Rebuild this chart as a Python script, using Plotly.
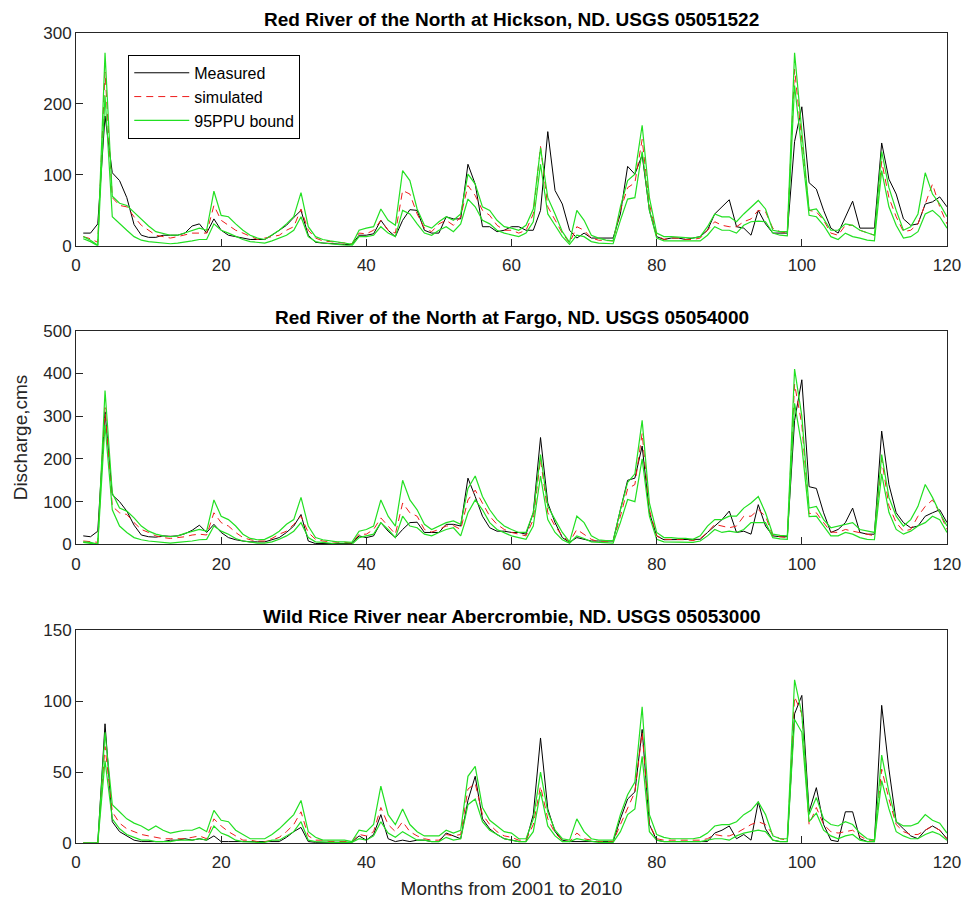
import plotly.graph_objects as go

months = list(range(1, 121))

# ---- Panel 1: Red River of the North at Hickson ----
hick_meas = [18,18,31,183,103,92,68,30,15,12, 12,15,15,15,18,28,31,18,38,22,
             15,13,11,9,9,9,15,22,29,40, 50,15,5,4,3,3,2,2,15,15,
             17,36,22,13,36,51,50,22,18,18, 41,38,38,115,87,27,27,20,22,27,
             27,22,22,50,161,78,59,22,11,18, 11,11,11,11,45,112,101,128,50,13,
             9,11,11,9,11,13,22,45,55,65, 27,25,15,50,31,18,18,18,147,196,
             89,80,50,25,18,41,63,25,25,25, 145,94,73,38,29,31,59,62,69,55]
hick_sim = [13,10,5,245,68,57,55,41,29,22, 15,13,11,13,15,18,18,18,57,36,
            29,22,18,13,9,11,13,15,22,27, 52,22,11,7,6,5,4,3,18,17,
            22,36,22,18,78,73,45,25,20,31, 36,29,41,85,71,50,43,29,22,22,
            18,22,45,140,55,36,18,4,27,22, 11,8,7,7,50,82,89,150,59,15,
            9,11,11,9,9,11,22,34,29,27, 27,34,38,50,48,25,20,18,249,150,
            50,48,36,18,15,29,29,22,18,15, 119,68,41,20,22,31,59,87,55,31]
hick_up = [13,8,1,272,70,60,57,47,37,28, 20,18,15,15,18,22,25,22,77,43,
           41,31,22,15,11,9,15,22,31,41, 75,27,13,9,7,6,4,2,22,25,
           27,52,36,29,106,92,52,29,25,34, 41,36,45,101,87,55,50,36,27,25,
           22,29,52,138,68,45,20,5,50,36, 15,11,8,7,55,92,101,170,68,18,
           13,13,12,11,11,13,27,45,41,41, 34,45,55,64,52,22,20,20,272,160,
           50,52,38,22,22,31,29,22,18,15, 133,82,50,22,27,45,103,73,59,41]
hick_lo = [10,6,0,212,41,31,22,13,8,6, 5,4,3,4,5,7,9,9,31,22,
           18,13,9,6,5,4,7,11,15,22, 41,13,6,4,3,2,1,0,13,13,
           15,27,18,13,50,45,31,18,15,22, 27,20,31,66,55,36,31,22,18,15,
           13,18,34,115,45,29,13,2,15,13, 6,4,3,3,36,66,68,133,50,11,
           7,7,7,6,6,7,15,27,22,22, 18,29,34,35,34,18,15,14,226,135,
           43,41,29,13,9,18,13,11,8,7, 106,55,29,11,13,20,45,50,41,25]

# ---- Panel 2: Red River of the North at Fargo ----
fargo_meas = [20,18,31,310,116,100,78,45,22,18, 17,20,19,20,25,33,45,28,47,28,
              16,11,8,6,6,6,11,16,28,43, 70,8,2,2,2,2,2,2,20,16,
              20,51,31,16,35,51,52,28,28,28, 47,47,43,155,112,66,39,31,31,28,
              28,24,74,250,97,51,16,5,16,12, 8,8,8,8,81,150,155,230,74,20,
              11,11,11,11,11,12,28,43,58,78, 28,31,24,93,43,20,18,18,290,385,
              135,131,74,28,35,51,85,28,24,24, 265,140,74,51,39,43,66,74,81,51]
fargo_sim = [8,6,5,320,89,74,70,51,35,28, 20,16,14,16,18,22,24,22,74,51,
             43,28,16,11,8,8,14,24,31,47, 66,28,12,8,6,5,5,3,24,24,
             35,62,43,24,97,74,66,35,29,35, 43,44,35,104,127,97,66,47,35,28,
             24,20,58,200,74,43,20,6,35,24, 12,6,6,6,66,130,140,260,81,20,
             12,12,11,11,9,14,28,47,43,39, 43,66,66,81,66,20,18,16,375,280,
             72,74,51,29,28,35,31,28,24,20, 200,90,51,31,35,66,89,104,74,35]
fargo_up = [6,5,1,360,120,85,78,62,43,31, 24,20,18,20,26,31,35,31,104,66,
            58,43,24,14,11,12,20,31,47,58, 110,43,16,11,9,6,6,5,31,35,
            43,104,66,43,150,104,81,47,35,43, 51,55,47,131,160,112,81,58,43,35,
            28,28,74,210,89,58,28,6,66,51, 20,11,9,9,81,145,165,290,97,28,
            16,16,14,14,12,20,43,58,58,66, 66,85,97,112,74,24,21,20,410,300,
            85,89,58,39,43,47,51,35,31,28, 210,110,66,43,58,89,140,110,74,43]
fargo_lo = [5,2,0,280,81,43,28,16,11,8, 6,5,3,5,6,8,11,12,43,31,
            24,14,8,5,3,3,6,12,20,31, 51,16,6,5,3,1,1,0,16,20,
            24,51,35,16,66,43,39,24,20,28, 35,39,20,74,104,81,51,35,28,20,
            16,12,43,160,58,28,11,3,20,14, 6,5,3,3,51,105,100,200,66,12,
            6,6,5,5,5,8,20,35,28,31, 28,35,51,51,51,16,13,12,330,230,
            65,66,43,20,20,28,24,16,12,11, 165,75,35,24,31,43,51,66,58,28]

# ---- Panel 3: Wild Rice River near Abercrombie ----
wild_meas = [0,0,0,84,15,8,5,2,1,1, 1,1,2,2,3,2,3,2,5,1,
             1,1,0.5,0.5,0.5,0.5,0.5,1,4,8, 11,1,0.5,0.5,0.5,0.5,0.5,0.5,5,2,
             6,20,3,1,2,1,2,2,1,1, 7,5,3,30,47,17,10,6,3,2,
             1,1,20,74,24,8,2,1,1,1, 1,1,1,1,17,31,36,80,13,2,
             1,1,1,1,1,1,1,7,9,12, 3,6,2,29,10,2,1,1,91,104,
             22,39,13,2,1,22,22,3,1,1, 97,52,15,10,5,3,9,12,9,3]
wild_sim = [0,0,0,68,22,14,10,8,6,5, 4,3,3,3,3,4,5,3,17,12,
            8,5,2,2,1,1,2,4,8,13, 22,5,2,2,1,1,1,1,6,5,
            8,25,13,8,15,8,5,3,2,2, 6,5,6,38,42,20,13,8,5,4,
            2,2,13,40,17,7,2,1,7,3, 2,1,1,1,13,24,36,78,13,3,
            2,2,2,2,2,2,3,6,5,5, 7,10,13,15,13,6,3,2,103,91,
            13,25,13,8,7,8,9,5,2,2, 52,31,13,8,6,6,9,12,9,3]
wild_up = [0,0,0,78,27,22,17,14,12,9, 12,9,7,8,9,9,11,8,23,16,
           15,9,6,3,3,3,6,10,15,20, 30,8,4,2,2,2,2,1,9,8,
           13,40,20,13,24,13,8,5,5,5, 9,7,9,47,54,25,16,12,8,7,
           3,3,17,50,22,9,3,2,17,8, 3,2,2,2,20,34,43,96,20,6,
           4,3,3,3,3,4,7,12,13,13, 15,20,23,29,20,5,3,3,115,91,
           20,32,17,13,12,15,13,7,3,2, 62,36,15,12,12,14,20,16,14,7]
wild_lo = [0,0,0,58,17,10,6,4,2,2, 1,1,1,2,2,2,3,2,12,7,
           5,2,1,0.5,0.5,0.5,2,2,5,8, 15,2,1,0.5,0.5,0.5,0.5,0.5,3,2,
           5,15,7,4,8,5,2,2,1,1, 4,2,3,27,31,15,9,6,3,2,
           1,1,8,36,12,5,1,1,3,2, 1,0.5,0.5,0.5,8,20,24,61,8,2,
           1,1,1,1,1,1,2,3,3,2, 5,7,8,9,8,2,1,1,87,78,
           15,21,9,5,3,5,6,2,1,1, 44,24,8,5,3,3,6,8,6,2]

titles = ["Red River of the North at Hickson, ND. USGS 05051522",
          "Red River of the North at Fargo, ND. USGS 05054000",
          "Wild Rice River near Abercrombie, ND. USGS 05053000"]
y_ranges = [[0, 300], [0, 500], [0, 150]]
y_dticks = [100, 100, 50]
x_ticks = [0, 20, 40, 60, 80, 100, 120]

panels = [(hick_meas, hick_sim, hick_up, hick_lo),
          (fargo_meas, fargo_sim, fargo_up, fargo_lo),
          (wild_meas, wild_sim, wild_up, wild_lo)]

GREEN = "#22e022"
RED = "#ee1c1c"
AX = "#262626"
FONT = "Liberation Sans, Arial, Helvetica"

fig = go.Figure()
for i, (meas, sim, up, lo) in enumerate(panels):
    xa = "x" if i == 0 else f"x{i+1}"
    ya = "y" if i == 0 else f"y{i+1}"
    first = (i == 0)
    fig.add_trace(go.Scatter(x=months, y=meas, mode="lines", name="Measured",
                             line=dict(color="black", width=1),
                             showlegend=first, xaxis=xa, yaxis=ya))
    fig.add_trace(go.Scatter(x=months, y=sim, mode="lines", name="simulated",
                             line=dict(color=RED, width=1, dash="7px,5px"),
                             showlegend=first, xaxis=xa, yaxis=ya))
    fig.add_trace(go.Scatter(x=months, y=up, mode="lines", name="95PPU bound",
                             line=dict(color=GREEN, width=1.2),
                             showlegend=first, xaxis=xa, yaxis=ya))
    fig.add_trace(go.Scatter(x=months, y=lo, mode="lines", name="95PPU bound",
                             line=dict(color=GREEN, width=1.2),
                             showlegend=False, xaxis=xa, yaxis=ya))

# domains (plot area 822 px tall)
domains = [[0.7372, 1.0], [0.3686, 0.6326], [0.0, 0.2628]]

axis_common = dict(showline=True, mirror=True, linecolor=AX, linewidth=1,
                   ticks="inside", ticklen=7, tickcolor=AX,
                   tickfont=dict(family=FONT, size=17, color=AX),
                   ticklabeloverflow="allow",
                   showgrid=False, zeroline=False)

layout = {}
for i in range(3):
    sx = "" if i == 0 else str(i + 1)
    layout[f"xaxis{sx}"] = dict(axis_common, range=[0, 120], tickvals=x_ticks,
                                ticklabelstandoff=4,
                                anchor=f"y{sx}", domain=[0, 1])
    layout[f"yaxis{sx}"] = dict(axis_common, range=y_ranges[i], dtick=y_dticks[i],
                                tick0=0, anchor=f"x{sx}", domain=domains[i])

layout["yaxis2"]["title"] = dict(text="Discharge,cms",
                                 font=dict(family=FONT, size=19, color=AX),
                                 standoff=10)
layout["xaxis3"]["title"] = dict(text="Months from 2001 to 2010",
                                 font=dict(family=FONT, size=19, color=AX),
                                 standoff=10)

fig.update_layout(**layout)

annotations = []
for i, t in enumerate(titles):
    annotations.append(dict(text=f"<b>{t}</b>", x=0.5, xref="paper",
                            y=domains[i][1], yref="paper", yshift=1,
                            xanchor="center", yanchor="bottom", showarrow=False,
                            font=dict(family=FONT, size=19, color="black")))

# page body has an 8px default margin, so the figure is sized to fit the window
fig.update_layout(
    width=964, height=899,
    margin=dict(l=68, r=11, t=25, b=52),
    paper_bgcolor="white", plot_bgcolor="white",
    annotations=annotations,
    showlegend=True,
    legend=dict(x=0.06, y=0.973, xanchor="left", yanchor="top",
                bgcolor="white", bordercolor="black", borderwidth=1,
                font=dict(family=FONT, size=16, color="black"),
                tracegroupgap=0, itemwidth=55),
)

fig.write_html("out.html")
